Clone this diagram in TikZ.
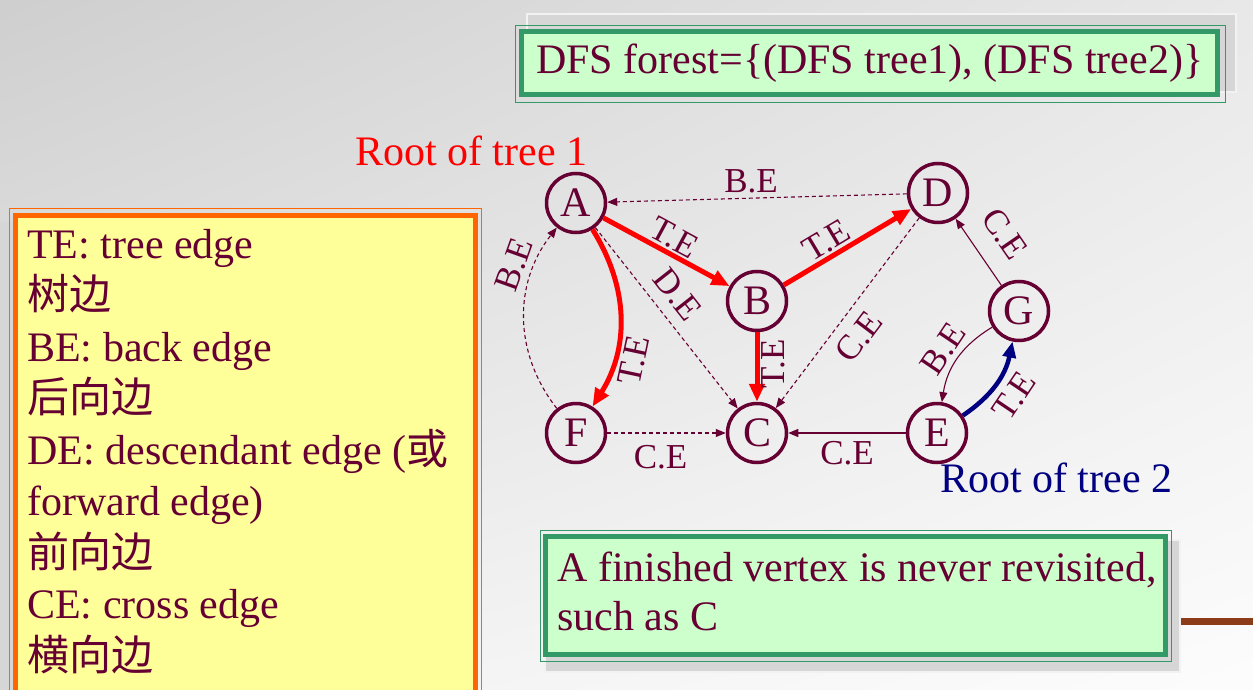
\documentclass[tikz,border=0pt]{standalone}
\usepackage{fontspec}
\setmainfont{Liberation Serif}
\newfontfamily\cjk{Noto Sans CJK SC}
\usepackage{tikz}
\usetikzlibrary{arrows.meta, positioning, calc, shadings}
\definecolor{slideMaroon}{RGB}{102, 0, 51}
\definecolor{slideRed}{RGB}{255, 0, 0}
\definecolor{slideNavy}{RGB}{0, 0, 128}
\definecolor{noteGreen}{RGB}{204, 255, 204}
\definecolor{noteBorder}{RGB}{51, 153, 102}
\definecolor{legendYellow}{RGB}{255, 255, 153}
\definecolor{legendOrange}{RGB}{255, 102, 0}
\definecolor{barBrown}{RGB}{140, 60, 25}

\begin{document}
\begin{tikzpicture}[x=1pt, y=-1pt,
        vertex/.style={circle, draw=slideMaroon, line width=3.5pt, minimum size=59pt, inner sep=0pt, text=slideMaroon, font=\fontsize{42}{42}\selectfont},
        treeedge/.style={slideRed, line width=5pt, -{Triangle[length=18pt, width=15pt]}},
        navyedge/.style={slideNavy, line width=4.5pt, -{Triangle[length=16pt, width=13pt]}},
        thinedge/.style={slideMaroon, line width=1.1pt, -{Triangle[length=10pt, width=8pt]}},
        dashedge/.style={thinedge, dash pattern=on 4pt off 3pt},
        elabel/.style={text=slideMaroon, font=\fontsize{35}{35}\selectfont, inner sep=2pt},
        bigtext/.style={font=\fontsize{42}{42}\selectfont},
        shadowbox/.style={fill=black!16, draw=black!5, line width=1.5pt}
    ]
        \useasboundingbox (0,0) rectangle (1253,690);
        \shade[upper left=black!19, upper right=black!9, lower left=black!6, lower right=black!1] (0,0) rectangle (1253,690);

        \fill[barBrown] (1171,618) rectangle (1253,625);

        \draw[shadowbox] (527,14) rectangle (1236,92);
        \draw[shadowbox] (545,540) rectangle (1180,672);
        \fill[black!16] (0,222) rectangle (470,690);

        \node[draw=noteBorder, line width=5pt, fill=noteGreen, minimum width=696pt, minimum height=63pt, inner sep=0pt, text=slideMaroon, bigtext] (forest) at (869.75,63) {DFS forest=\{(DFS tree1), (DFS tree2)\}};
        \draw[noteBorder, line width=1pt] (515.5,25.5) rectangle (1225.5,102.5);

        \fill[legendYellow] (15,215) rectangle (475,695);
        \draw[legendOrange, line width=5pt] (15,695) -- (15,215) -- (475,215) -- (475,695);
        \draw[legendOrange, line width=1pt] (9.5,695) -- (9.5,208.5) -- (481.5,208.5) -- (481.5,695);
        \node[anchor=north west, inner sep=0pt, align=left, text=slideMaroon, font=\fontsize{42}{51.5}\selectfont] (legend) at (27,229) {TE: tree edge\\{\cjk 树边}\\BE: back edge\\{\cjk 后向边}\\DE: descendant edge ({\cjk 或}\\forward edge)\\{\cjk 前向边}\\CE: cross edge\\{\cjk 横向边}};

        \node[draw=noteBorder, line width=5pt, fill=noteGreen, minimum width=620pt, minimum height=118.5pt, inner sep=0pt] (notebox) at (855.5,595.25) {};
        \draw[noteBorder, line width=1pt] (540,530) rectangle (1171,661);
        \node[anchor=north west, inner sep=0pt, align=left, text=slideMaroon, font=\fontsize{42}{49}\selectfont] (note) at (557,552) {A finished vertex is never revisited,\\such as C};

        \node[anchor=base west, inner sep=0pt, text=slideRed, bigtext] (root1) at (355,165) {Root of tree 1};
        \node[anchor=base west, inner sep=0pt, text=slideNavy, bigtext] (root2) at (940,492) {Root of tree 2};

        \node[vertex] (A) at (576,203) {A};
        \node[vertex] (B) at (757,301) {B};
        \node[vertex] (C) at (757,433) {C};
        \node[vertex] (D) at (938,193) {D};
        \node[vertex] (E) at (937,433) {E};
        \node[vertex] (F) at (576,433) {F};
        \node[vertex] (G) at (1019,311) {G};

        \draw[treeedge] (A) -- node[elabel, sloped, above] {T.E} (B);
        \draw[treeedge] (B) -- node[elabel, sloped, above, pos=0.4] {T.E} (D);
        \draw[treeedge] (B) -- node[elabel, pos=0.4, rotate=90, below=4pt] {T.E} (C);
        \draw[treeedge] (A) to[bend left=32] node[elabel, pos=0.64, rotate=78, below=14pt] {T.E} (F);
        \draw[navyedge] (E) to[bend right=22] node[elabel, sloped, below=6pt] {T.E} (G);
        \draw[dashedge] (A) -- node[elabel, sloped, above=9pt, pos=0.45] {D.E} (C);
        \draw[dashedge] (D) -- node[elabel, above=3pt, pos=0.52] {B.E} (A);
        \draw[dashedge] (F) to[bend left=38] node[elabel, sloped, above=5pt, pos=0.75] {B.E} (A);
        \draw[dashedge] (D) -- node[elabel, sloped, below=9pt, pos=0.55] {C.E} (C);
        \draw[dashedge] (F) -- node[elabel, below=10pt, pos=0.45] {C.E} (C);
        \draw[thinedge] (G) -- node[elabel, sloped, above=18pt, pos=0.5] {C.E} (D);
        \draw[thinedge] (G) to[bend right=25] node[elabel, sloped, above=3pt] {B.E} (E);
        \draw[thinedge] (E) -- node[elabel, below=6pt] {C.E} (C);
    \end{tikzpicture}
\end{document}
